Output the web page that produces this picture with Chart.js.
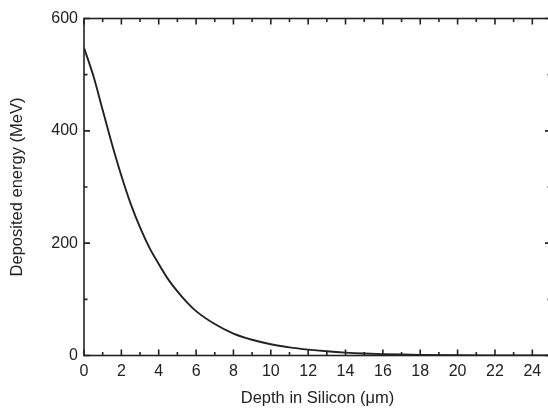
<!DOCTYPE html>
<html>
<head>
<meta charset="utf-8">
<script src="https://cdn.jsdelivr.net/npm/chart.js@4"></script>
<style>
    html, body { margin: 0; padding: 0; background: #fff; overflow: hidden; }
    #wrap { width: 560px; height: 412px; }
</style>
</head>
<body>
<div id="wrap"><canvas id="chart"></canvas></div>
<script>
// values
const depth = [0, 0.5, 1, 1.5, 2, 2.5, 3, 3.5, 4, 4.5, 5, 5.5, 6, 7, 8, 9, 10, 11, 12, 13, 14, 15, 16, 17, 18, 20, 22, 25];
const energy = [548, 498, 437, 376, 320, 270, 228, 192, 163, 136, 114, 95, 79, 56, 39, 28, 20, 14.5, 10.5, 7.5, 5.2, 3.6, 2.5, 1.7, 1.1, 0.5, 0.25, 0.1];

const xMin = 0, xMax = 25, xMajor = 2, xMinor = 1;
const yMin = 0, yMax = 600, yMajor = 200, yMinor = 100;

const ink = '#222';
const fontFamily = '"Liberation Sans", Arial, sans-serif';

// inward ticks on all four sides plus the frame
const frameTicks = {
    id: 'frameTicks',
    afterDatasetsDraw: function (chart) {
        const ctx = chart.ctx;
        const a = chart.chartArea;
        const x = chart.scales.x;
        const y = chart.scales.y;
        ctx.save();
        ctx.strokeStyle = ink;
        ctx.lineWidth = 1.6;
        ctx.strokeRect(a.left, a.top, a.right - a.left, a.bottom - a.top);
        ctx.beginPath();
        for (let v = xMin; v <= xMax; v += xMinor) {
            const px = x.getPixelForValue(v);
            const len = v % xMajor === 0 ? 6 : 3.5;
            ctx.moveTo(px, a.bottom);
            ctx.lineTo(px, a.bottom - len);
            ctx.moveTo(px, a.top);
            ctx.lineTo(px, a.top + len);
        }
        for (let v = yMin; v <= yMax; v += yMinor) {
            const py = y.getPixelForValue(v);
            const len = v % yMajor === 0 ? 6 : 3.5;
            ctx.moveTo(a.left, py);
            ctx.lineTo(a.left + len, py);
            ctx.moveTo(a.right, py);
            ctx.lineTo(a.right - len, py);
        }
        ctx.stroke();
        ctx.restore();
    }
};

new Chart(document.getElementById('chart'), {
    type: 'scatter',
    data: {
        datasets: [{
            data: depth.map((d, i) => ({ x: d, y: energy[i] })),
            showLine: true,
            borderColor: ink,
            borderWidth: 1.9,
            pointRadius: 0,
            cubicInterpolationMode: 'monotone',
            fill: false
        }]
    },
    options: {
        responsive: true,
        maintainAspectRatio: false,
        animation: false,
        layout: { padding: { top: 18.5, right: 9, left: 0, bottom: 0 } },
        plugins: {
            legend: { display: false },
            tooltip: { enabled: false }
        },
        scales: {
            x: {
                type: 'linear',
                min: xMin,
                max: xMax,
                afterFit: function (scale) { scale.height = 56.5; },
                grid: { display: false, drawTicks: false },
                border: { display: false },
                ticks: {
                    stepSize: xMajor,
                    includeBounds: false,
                    padding: 6,
                    color: ink,
                    font: { family: fontFamily, size: 16 },
                    maxRotation: 0
                },
                title: {
                    display: true,
                    text: 'Depth in Silicon (\u03bcm)',
                    color: ink,
                    font: { family: fontFamily, size: 16.5 },
                    padding: { top: 0, bottom: 4 }
                }
            },
            y: {
                type: 'linear',
                min: yMin,
                max: yMax,
                afterFit: function (scale) { scale.width = 84; },
                grid: { display: false, drawTicks: false },
                border: { display: false },
                ticks: {
                    stepSize: yMajor,
                    padding: 6,
                    color: ink,
                    font: { family: fontFamily, size: 16 }
                },
                title: {
                    display: true,
                    text: 'Deposited energy (MeV)',
                    color: ink,
                    font: { family: fontFamily, size: 16.5 },
                    padding: { top: 8, bottom: 0 }
                }
            }
        }
    },
    plugins: [frameTicks]
});
</script>
</body>
</html>
